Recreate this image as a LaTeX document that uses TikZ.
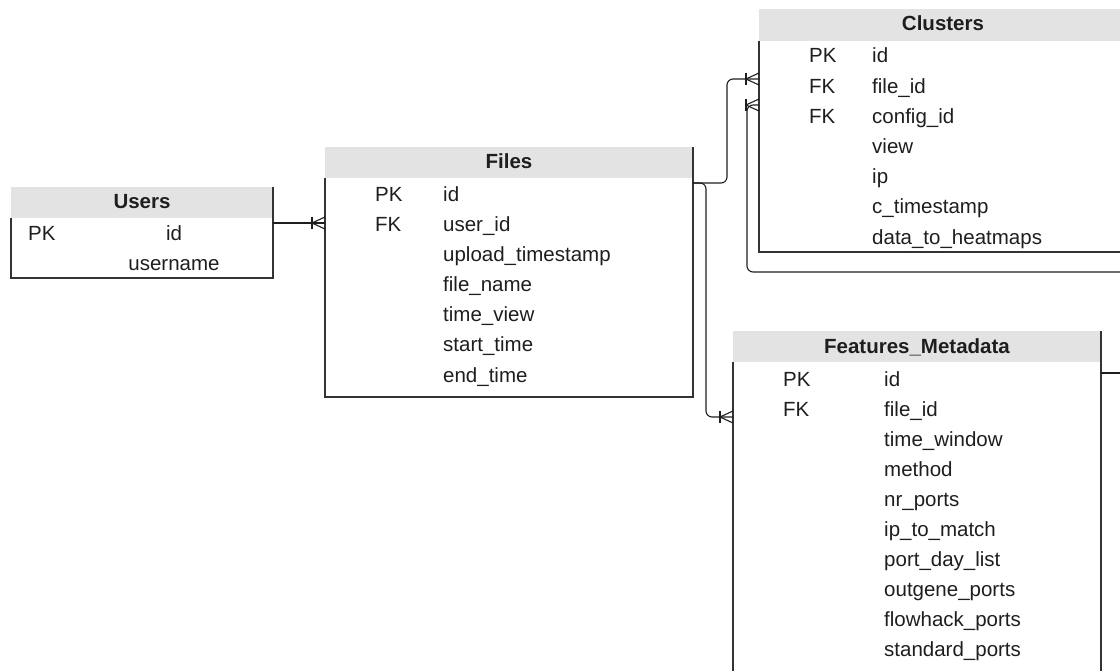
\documentclass[tikz,border=0pt]{standalone}
\usepackage{fontspec}
\setmainfont{Liberation Sans}
\usetikzlibrary{calc}
\definecolor{hdr}{HTML}{E3E3E3}
\definecolor{ink}{HTML}{1E1E1E}
\definecolor{edge}{HTML}{333333}
\tikzset{
  hdrbox/.style={fill=hdr, draw=none, anchor=north west, inner sep=0pt, outer sep=0pt},
  bodybox/.style={draw=none, anchor=north west, inner sep=0pt, outer sep=0pt},
  title/.style={font=\fontsize{20.5}{24}\selectfont\bfseries, text=ink, anchor=base, inner sep=0pt},
  fld/.style={font=\fontsize{20.5}{24}\selectfont, text=ink, anchor=base west, inner sep=0pt},
  fldc/.style={fld, anchor=base},
  border/.style={draw=edge, line width=1.3pt},
  conn/.style={draw=ink, line width=1.1pt, rounded corners=6pt},
  foot/.style={draw=ink, line width=1.1pt},
  crow/.pic={
    \draw[foot] (-13,-6) -- (-13,6);
    \draw[foot] (0,-6) -- (-13,0) -- (0,6);
  }
}
\begin{document}
\begin{tikzpicture}[x=1pt, y=-1pt]
\useasboundingbox (0,0) rectangle (1120,671);
\clip (0,0) rectangle (1120,671);

% ---------- Users ----------
\node[hdrbox, minimum width=262, minimum height=31] (uh) at (11,187) {};
\node[bodybox, minimum width=262, minimum height=60] (ub) at (11,218) {};
\draw[border] (uh.north east) -- (ub.south east) -- (ub.south west) -- (ub.north west);
\node[title] (ut) at (142,209) {Users};
\node[fld] (upk) at (28,241) {PK};
\node[fldc] (u1) at (174,241) {id};
\node[fldc] (u2) at (174,271) {username};

% ---------- Files ----------
\node[hdrbox, minimum width=368, minimum height=31] (fh) at (325,147) {};
\node[bodybox, minimum width=368, minimum height=219] (fb) at (325,178) {};
\draw[border] (fh.north east) -- (fb.south east) -- (fb.south west) -- (fb.north west);
\node[title] (ft) at (509,169) {Files};
\node[fld] (fpk) at (375,202) {PK};
\node[fld] (ffk) at (375,232) {FK};
\foreach \t [count=\i from 0] in {id,user\_id,upload\_timestamp,file\_name,time\_view,start\_time,end\_time}
  \node[fld] (f\i) at (443,202+30*\i) {\t};

% ---------- Clusters ----------
\node[hdrbox, minimum width=368, minimum height=32] (ch) at (759,9) {};
\node[bodybox, minimum width=368, minimum height=211] (cb) at (759,41) {};
\draw[border] (ch.north east) -- (cb.south east) -- (cb.south west) -- (cb.north west);
\node[title] (ct) at (943,31) {Clusters};
\node[fld] (cpk) at (809,63) {PK};
\node[fld] (cfk1) at (809,93.2) {FK};
\node[fld] (cfk2) at (809,123.4) {FK};
\foreach \t [count=\i from 0] in {id,file\_id,config\_id,view,ip,c\_timestamp,data\_to\_heatmaps}
  \node[fld] (c\i) at (872,63+30.2*\i) {\t};

% ---------- Features_Metadata ----------
\node[hdrbox, minimum width=368, minimum height=31] (mh) at (733,331) {};
\node[bodybox, minimum width=368, minimum height=360] (mb) at (733,362) {};
\draw[border] (mh.north east) -- (mb.south east) -- (mb.south west) -- (mb.north west);
\node[title] (mt) at (917,353) {Features\_Metadata};
\node[fld] (mpk) at (783,386) {PK};
\node[fld] (mfk) at (783,416.1) {FK};
\foreach \t [count=\i from 0] in {id,file\_id,time\_window,method,nr\_ports,ip\_to\_match,port\_day\_list,outgene\_ports,flowhack\_ports,standard\_ports}
  \node[fld] (m\i) at (884,386+30.1*\i) {\t};

% ---------- connector end points ----------
\coordinate (us) at ($(ub.north east)+(0,5)$);
\coordinate (fA) at ($(fb.north west)+(0,45)$);
\coordinate (fs) at ($(fb.north east)+(0,5)$);
\coordinate (cA) at ($(cb.north west)+(0,38)$);
\coordinate (cB) at ($(cb.north west)+(0,64)$);
\coordinate (mA) at ($(mb.north west)+(0,55)$);
\coordinate (ms) at ($(mb.north east)+(0,11)$);
\coordinate (rD) at (1120,272);
\coordinate (rE) at (1120,373);

% ---------- connectors ----------
\draw[conn] (us) -- (fA);
\draw[conn] (fs) -- ($(fs)+(34,0)$) |- (cA);
\draw[conn] (fs) -- ($(fs)+(13,0)$) |- (mA);
\draw[conn] (rD) -| ($(cB)+(-12,0)$) -- (cB);
\draw[conn] (ms) -- (rE);

\pic at (fA) {crow};
\pic at (cA) {crow};
\pic at (cB) {crow};
\pic at (mA) {crow};
\end{tikzpicture}
\end{document}
